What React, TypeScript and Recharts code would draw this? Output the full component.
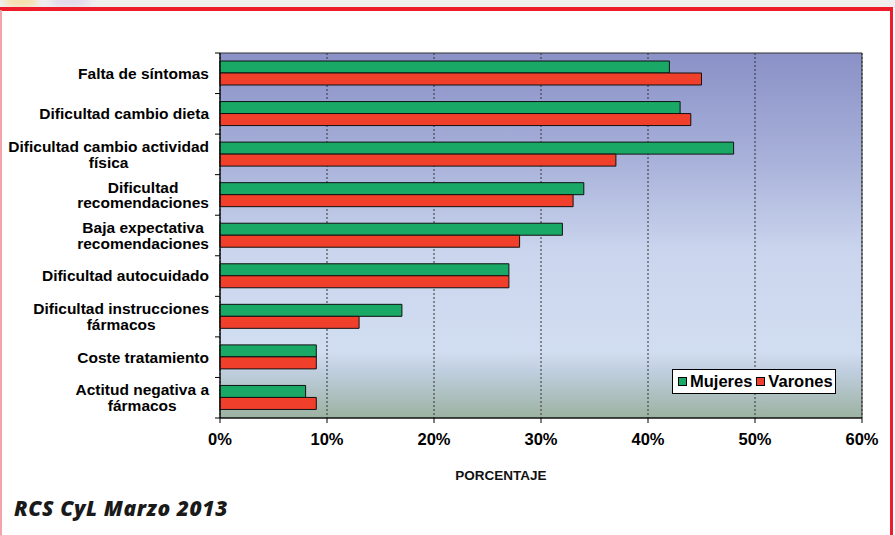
import {
  BarChart,
  Bar,
  XAxis,
  YAxis,
  CartesianGrid,
  Legend,
  ReferenceArea,
} from "recharts";

// categorías de arriba abajo (saltos de línea como en el original)
const categories = [
  "Falta de síntomas",
  "Dificultad cambio dieta",
  "Dificultad cambio actividad\nfísica",
  "Dificultad\nrecomendaciones",
  "Baja expectativa\nrecomendaciones",
  "Dificultad autocuidado",
  "Dificultad instrucciones\nfármacos",
  "Coste tratamiento",
  "Actitud negativa a\nfármacos",
];
const mujeres = [42, 43, 48, 34, 32, 27, 17, 9, 8];
const varones = [45, 44, 37, 33, 28, 27, 13, 9, 9];
const xTicks = [0, 10, 20, 30, 40, 50, 60];

const data = categories.map((label, i) => ({
  label,
  Mujeres: mujeres[i],
  Varones: varones[i],
}));

const W = 895;
const H = 535;
const PLOT_TOP = 53;
const PLOT_BOTTOM = 418;
const FONT = "'Liberation Sans', Arial, sans-serif";
const GREEN = "#1aa866";
const RED = "#f0402c";

let ctx: CanvasRenderingContext2D | null = null;
function textWidth(s: string, font: string) {
  if (!ctx) ctx = document.createElement("canvas").getContext("2d");
  if (!ctx) return s.length * 8;
  ctx.font = font;
  return ctx.measureText(s).width;
}

const CategoryTick = (props: any) => {
  const { x, y, payload, index } = props;
  const lines = String(payload.value).split("\n");
  const font = `bold 15.5px ${FONT}`;
  const maxW = Math.max(...lines.map((l) => textWidth(l, font)));
  const cx = x - maxW / 2;
  const band = (PLOT_BOTTOM - PLOT_TOP) / categories.length;
  const axisX = x + 11;
  return (
    <g>
      {lines.map((l, i) => (
        <text
          key={i}
          x={cx}
          y={y + (i - (lines.length - 1) / 2) * 15.5}
          dy="0.35em"
          textAnchor="middle"
          style={{ font, fill: "#000" }}
        >
          {l}
        </text>
      ))}
      <line x1={axisX - 5} x2={axisX} y1={y - band / 2} y2={y - band / 2} stroke="#000" />
      {index === categories.length - 1 && (
        <line x1={axisX - 5} x2={axisX} y1={y + band / 2} y2={y + band / 2} stroke="#000" />
      )}
    </g>
  );
};

const renderLegend = (props: any) => (
  <div
    style={{
      display: "flex",
      alignItems: "center",
      background: "#fff",
      border: "1px solid #000",
      height: 23,
      padding: "0 2px 0 5px",
      font: `bold 16.5px ${FONT}`,
      color: "#000",
      whiteSpace: "nowrap",
    }}
  >
    {props.payload.map((p: any, i: number) => (
      <span key={p.value} style={{ display: "flex", alignItems: "center", marginLeft: i ? 4 : 0 }}>
        <span
          style={{
            width: 7,
            height: 7,
            background: p.color,
            border: "1px solid #000",
            marginRight: 3,
          }}
        />
        {p.value}
      </span>
    ))}
  </div>
);

export default function App() {
  return (
    <div
      style={{
        position: "absolute",
        top: 0,
        left: 0,
        width: W,
        height: H,
        background: "#fff",
        overflow: "hidden",
      }}
    >
      {/* franja superior con logo difuminado */}
      <div style={{ position: "absolute", top: 0, left: 0, width: W, height: 8, background: "#efefef" }} />
      <div style={{ position: "absolute", top: -6, left: 4, width: 34, height: 14, borderRadius: "50%", background: "#f6dfae", filter: "blur(3px)" }} />
      <div style={{ position: "absolute", top: -4, left: 50, width: 40, height: 11, borderRadius: "50%", background: "#e2d8ec", filter: "blur(3px)" }} />
      <div style={{ position: "absolute", top: 7, left: 0, width: 893, height: 3.5, background: "#ee1c2a" }} />
      <div style={{ position: "absolute", top: 7, left: 890, width: 3, height: H, background: "#ee1c2a" }} />
      <div style={{ position: "absolute", top: 10, left: 0, width: 1.5, height: H, background: "#f5a3ab" }} />

      <div style={{ position: "absolute", top: 0, left: 0 }}>
        <BarChart
          width={W}
          height={H}
          data={data}
          layout="vertical"
          margin={{ top: PLOT_TOP, right: W - 862, left: 0, bottom: H - PLOT_BOTTOM - 62 }}
          barGap={0}
          barSize={12}
        >
          <defs>
            <linearGradient id="plotBg" x1="0" y1="0" x2="0" y2="1">
              <stop offset="0%" stopColor="#8991c7" />
              <stop offset="30%" stopColor="#a9b2da" />
              <stop offset="55%" stopColor="#cbd6ee" />
              <stop offset="82%" stopColor="#d1ddf0" />
              <stop offset="87%" stopColor="#c0cfe0" />
              <stop offset="100%" stopColor="#9cb2a1" />
            </linearGradient>
          </defs>
          <CartesianGrid
            horizontal={false}
            stroke="#333"
            strokeDasharray="2 2"
            fill="url(#plotBg)"
            fillOpacity={1}
          />
          <ReferenceArea x1={0} x2={60} fill="none" stroke="#333" strokeWidth={1} />
          <XAxis
            type="number"
            domain={[0, 60]}
            ticks={xTicks}
            tickFormatter={(v) => `${v}%`}
            height={62}
            tickSize={5}
            tickMargin={10}
            axisLine={{ stroke: "#000" }}
            tickLine={{ stroke: "#000" }}
            tick={{ fill: "#000", fontSize: 16.5, fontWeight: "bold", fontFamily: FONT }}
            label={{
              value: "PORCENTAJE",
              position: "insideBottom",
              offset: 0,
              dx: -40,
              style: { fill: "#111", fontSize: 13.5, fontWeight: "bold", fontFamily: FONT },
            }}
          />
          <YAxis
            type="category"
            dataKey="label"
            width={220}
            interval={0}
            tickSize={0}
            tickMargin={11}
            tickLine={false}
            axisLine={{ stroke: "#000" }}
            tick={<CategoryTick />}
          />
          <Legend
            layout="horizontal"
            verticalAlign="middle"
            align="center"
            content={renderLegend}
            wrapperStyle={{ left: 672, top: 369, width: "auto" }}
          />
          <Bar dataKey="Mujeres" fill={GREEN} stroke="#111" strokeWidth={1} isAnimationActive={false} />
          <Bar dataKey="Varones" fill={RED} stroke="#111" strokeWidth={1} isAnimationActive={false} />
        </BarChart>
      </div>

      <div
        style={{
          position: "absolute",
          left: 14,
          top: 494,
          font: "italic 800 21px 'Open Sans', 'Noto Sans', sans-serif",
          letterSpacing: 0.6,
          color: "#1a1a1a",
        }}
      >
        RCS CyL Marzo 2013
      </div>
    </div>
  );
}
